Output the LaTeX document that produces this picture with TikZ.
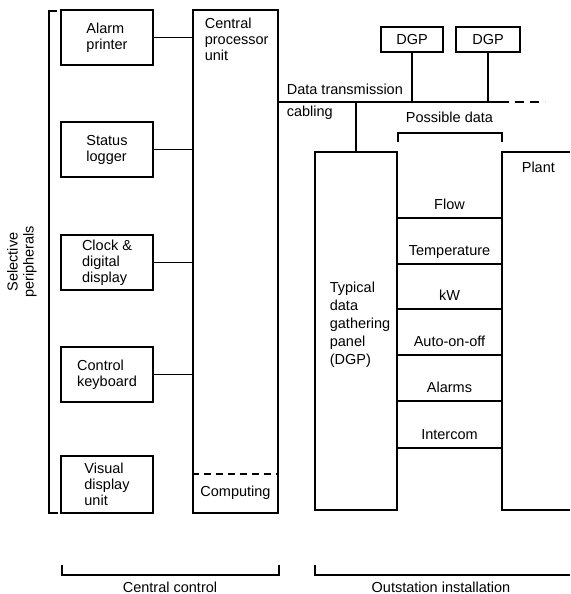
\documentclass[tikz,border=0pt]{standalone}
\usepackage{fontspec}
\setmainfont{Liberation Sans}
\usetikzlibrary{calc}

\begin{document}
\begin{tikzpicture}[x=1pt,y=-1pt,line width=1.7pt,
  every node/.style={font=\fontsize{14.5}{16}\selectfont},
  box/.style={draw,rectangle,inner sep=0pt,align=left},
  lbl/.style={inner sep=0pt,align=left},
  dashline/.style={dash pattern=on 7pt off 5pt}]
\useasboundingbox (0,0) rectangle (570,594);
% peripherals
\draw (57,11) -- (49,11) -- (49,513) -- (58,513);
\node[lbl,rotate=90,align=center] (selper) at (22,262) {Selective\\peripherals};
\node[box,minimum width=92pt,minimum height=55pt] (alarm) at (107,37.5) {Alarm\\printer};
\node[box,minimum width=92pt,minimum height=55pt] (status) at (107,149.5) {Status\\logger};
\node[box,minimum width=92pt,minimum height=55pt] (clock) at (107,262.5) {Clock \&\\digital\\display};
\node[box,minimum width=92pt,minimum height=55pt] (control) at (107,374.5) {Control\\keyboard};
\node[box,minimum width=92pt,minimum height=57pt] (visual) at (107,484.5) {Visual\\display\\unit};
% central processor
\node[box,minimum width=85pt,minimum height=503pt] (cpu) at (235.5,261.5) {};
\node[lbl,anchor=north west] (cputxt) at (204,17) {Central\\processor\\unit};
\draw[dashline] (cpu.west |- 0,474) -- (cpu.east |- 0,474);
\node[lbl] (comp) at (235.5,493) {Computing};
\foreach \n in {alarm,status,clock,control}
  \draw (\n.east) -- (\n.east -| cpu.west);
% cabling
\coordinate (cabA) at (cpu.east |- 0,102);
\coordinate (cabB) at (500,102);
\coordinate (cabC) at (545,102);
\draw (cabA) -- (cabB);
\draw[dash pattern=on 9pt off 6pt] (cabB) -- (cabC);
\node[lbl,anchor=base west] (datatx) at (286,94) {Data transmission};
\node[lbl,anchor=base west] (cabling) at (286,116) {cabling};
\node[box,minimum width=62pt,minimum height=25pt] (dgpa) at (412,39.5) {DGP};
\node[box,minimum width=64pt,minimum height=25pt] (dgpb) at (488,39.5) {DGP};
\draw (dgpa.south) -- (dgpa.south |- cabA);
\draw (dgpb.south) -- (dgpb.south |- cabA);
% outstation
\node[box,minimum width=82pt,minimum height=358pt] (dgp) at (356,331) {};
\node[lbl,anchor=north west,font=\fontsize{14.5}{18}\selectfont] (dgptxt) at (329,281)
  {Typical\\data\\gathering\\panel\\(DGP)};
\draw (dgp.north |- cabA) -- (dgp.north);
\coordinate (plantA) at (570,152);
\coordinate (plantB) at (502,152);
\coordinate (plantC) at (502,510);
\coordinate (plantD) at (570,510);
\draw (plantA) -- (plantB) -- (plantC) -- (plantD);
\node[lbl,anchor=base west] (plant) at (521,172) {Plant};
\draw (dgp.east |- 0,142) -- (dgp.east |- 0,133) -- (plantB |- 0,133) -- (plantB |- 0,142);
\node[lbl,anchor=base] (posdata) at (449.5,122) {Possible data};
\foreach \y/\t [count=\i] in {218/Flow,264/Temperature,309/kW,355/Auto-on-off,401/Alarms,448/Intercom}{
  \draw (dgp.east |- 0,\y) -- (plantB |- 0,\y);
  \node[lbl,anchor=base] (data\i) at (449.5,\y-9) {\t};
}
% bottom brackets
\draw (62,565) -- (62,575) -- (279,575) -- (279,565);
\node[lbl,anchor=base] (cc) at (170,592) {Central control};
\draw (315,565) -- (315,575) -- (570,575);
\node[lbl,anchor=base] (oi) at (441,592) {Outstation installation};
\end{tikzpicture}
\end{document}
